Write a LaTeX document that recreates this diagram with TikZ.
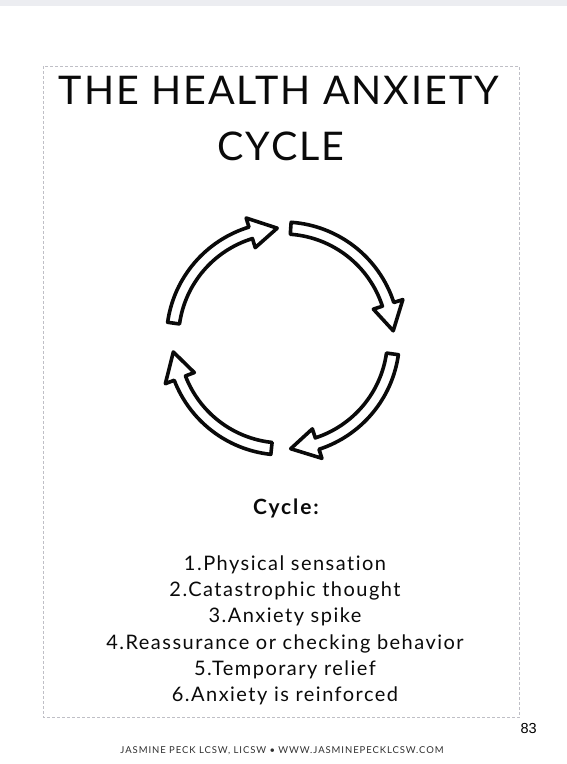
\documentclass[tikz,border=0pt]{standalone}
\usepackage{fontspec}
\setmainfont{Lato}[Ligatures={NoCommon}]
\newfontfamily\titlefont[LetterSpace=5,Ligatures={NoCommon}]{Lato}
\newfontfamily\listfont[LetterSpace=7.4,Ligatures={NoCommon}]{Lato}
\newfontfamily\footfont[LetterSpace=9.8,Ligatures={NoCommon}]{Lato}
\newfontfamily\pagefont{Liberation Sans}
\usetikzlibrary{calc}
\definecolor{stripgray}{HTML}{ECEDF1}
\definecolor{boxgray}{HTML}{BFBFC6}
\definecolor{inkblack}{HTML}{0A0A0A}
\tikzset{
  x=1pt,y=1pt,
  % kort
  frame/.style={draw=boxgray,line width=0.8pt,dash pattern=on 3pt off 2pt},
  titletext/.style={font=\titlefont\fontsize{39.5}{55.7}\selectfont,text=inkblack,
                    inner sep=0pt,anchor=base},
  headtext/.style={font=\bfseries\fontsize{21}{24}\selectfont\addfontfeature{LetterSpace=9},
                   text=inkblack,inner sep=0pt,anchor=base},
  steptext/.style={font=\listfont\fontsize{20}{26.3}\selectfont,text=inkblack,
                   inner sep=0pt,anchor=base},
  foottext/.style={font=\footfont\fontsize{9.5}{11}\selectfont,text=inkblack!85,
                   inner sep=0pt,anchor=base},
  pagetext/.style={font=\pagefont\fontsize{14.5}{16}\selectfont,inner sep=0pt,anchor=base},
  % pilar
  cyclearrow/.style={draw=inkblack,fill=white,line width=3.6pt,line join=round},
}
\begin{document}
\begin{tikzpicture}
  \useasboundingbox (0,0) rectangle (567,-764);
  \fill[stripgray] (0,0) rectangle (567,-6);
  \draw[frame] (43.5,-66) rectangle (519.3,-717.5);
  \node[titletext] (title1) at (279,-104.3) {THE HEALTH ANXIETY};
  \node[titletext] (title2) at (281,-160) {CYCLE};
  % cirkeln av fyra pilar
  \coordinate (hub) at (283,-338.5);
  \begin{scope}[shift={(hub)}]
    \foreach \t/\p in {172/93, 86/4, -8/-86, -96/-173}{
      \pgfmathsetmacro{\h}{\p+14}
      \draw[cyclearrow] (\t:116.5) arc[start angle=\t, end angle=\h, radius=116.5]
        -- (\h:126) -- (\p:110.5) -- (\h:95) -- (\h:104.5)
        arc[start angle=\h, end angle=\t, radius=104.5] -- cycle;
    }
  \end{scope}
  \node[headtext] (head) at (286,-514) {Cycle:};
  \node[steptext] (s1) at (285,-570) {1.Physical sensation};
  \node[steptext] (s2) at (285,-596.5) {2.Catastrophic thought};
  \node[steptext] (s3) at (285,-622.8) {3.Anxiety spike};
  \node[steptext] (s4) at (285,-649) {4.Reassurance or checking behavior};
  \node[steptext] (s5) at (285,-675.3) {5.Temporary relief};
  \node[steptext] (s6) at (285,-701.6) {6.Anxiety is reinforced};
  \node[pagetext] (page) at (528.7,-733.3) {83};
  \node[foottext] (foot) at (282,-753.3) {JASMINE PECK LCSW, LICSW • WWW.JASMINEPECKLCSW.COM};
\end{tikzpicture}
\end{document}
